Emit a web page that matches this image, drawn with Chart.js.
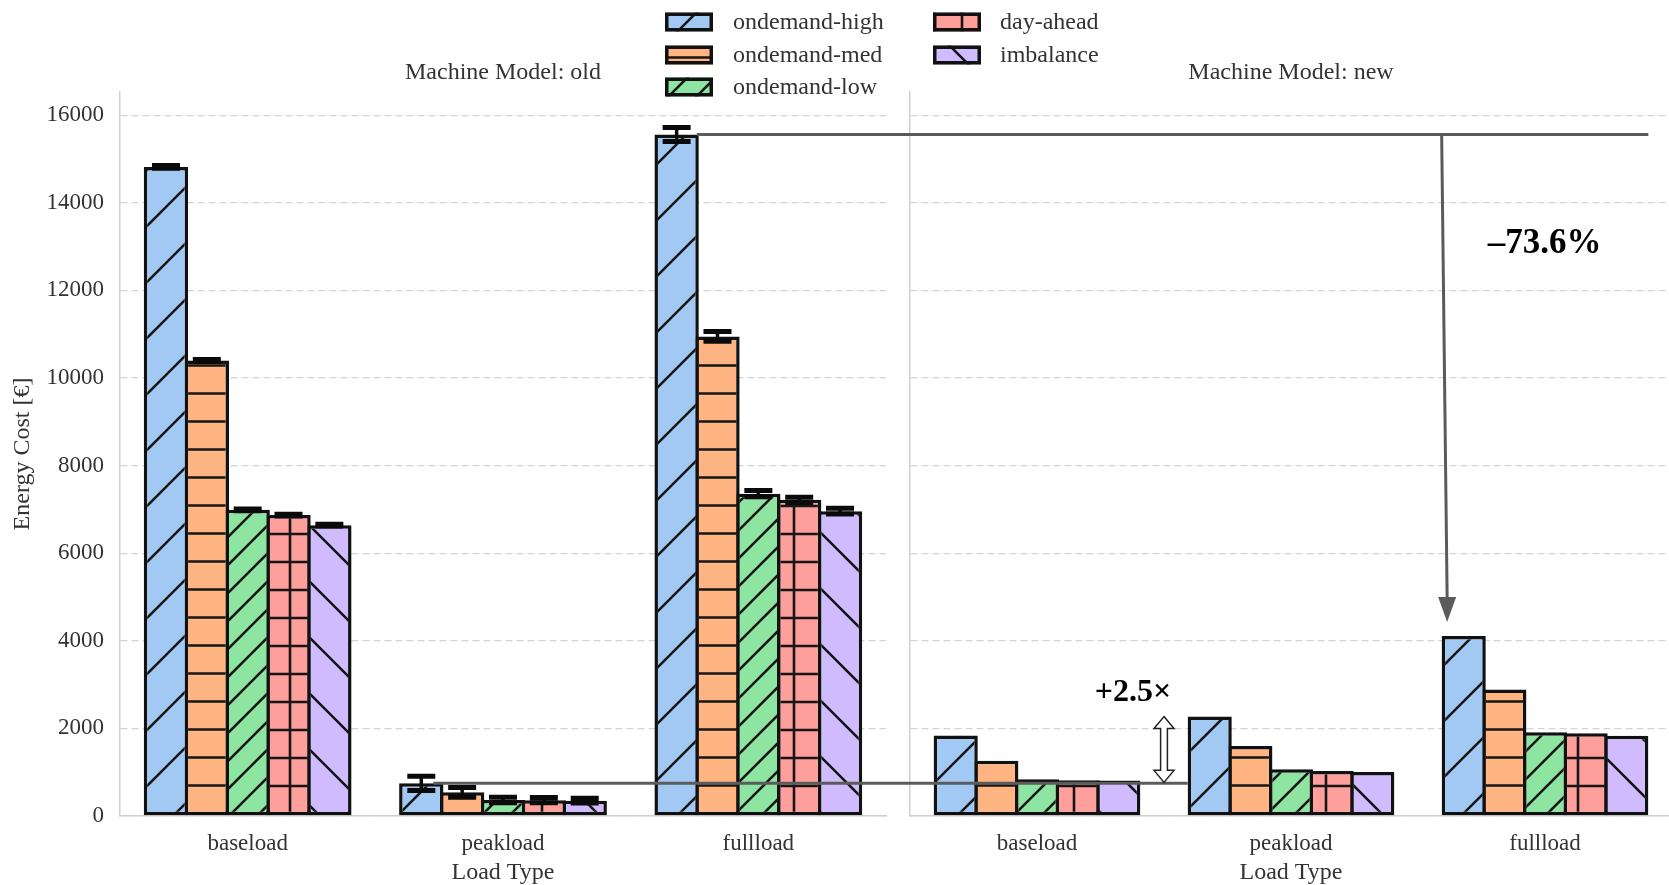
<!DOCTYPE html>
<html>
<head>
<meta charset="utf-8">
<title>Energy Cost by Load Type</title>
<script src="https://cdn.jsdelivr.net/npm/chart.js@4.4.0/dist/chart.umd.min.js"></script>
<style>
  html, body { margin: 0; padding: 0; background: #fff; overflow: hidden; width: 1669px; height: 885px; }
  canvas { position: absolute; left: 0; top: 0; }
</style>
</head>
<body>
<canvas id="oldChart" width="1669" height="885"></canvas>
<canvas id="newChart" width="1672" height="885"></canvas>
<script>
// ---- data ----
const loadTypes = ['baseload', 'peakload', 'fullload'];
const seriesNames = ['ondemand-high', 'ondemand-med', 'ondemand-low', 'day-ahead', 'imbalance'];
const seriesColors = ['#a1c9f4', '#ffb482', '#8de5a1', '#ff9f9b', '#d0bbff'];
const yTickValues = [0, 2000, 4000, 6000, 8000, 10000, 12000, 14000, 16000];

// Machine Model: old
const oldHigh      = [14820, 745, 15560];
const oldMed       = [10400, 540, 10950];
const oldLow       = [6990, 365, 7360];
const oldDayAhead  = [6870, 360, 7220];
const oldImbalance = [6640, 350, 6960];
// error bar half-lengths (old)
const oldHighErr      = [30, 165, 160];
const oldMedErr       = [25, 110, 110];
const oldLowErr       = [20, 65, 70];
const oldDayAheadErr  = [20, 60, 60];
const oldImbalanceErr = [20, 55, 65];

// Machine Model: new
const newHigh      = [1840, 2270, 4110];
const newMed       = [1260, 1600, 2890];
const newLow       = [840, 1065, 1910];
const newDayAhead  = [815, 1030, 1890];
const newImbalance = [810, 1005, 1835];

const changeLabel = '\u201373.6%';
const ratioLabel = '+2.5\u00d7';

// ---- styling ----
const SERIF = '"Liberation Serif", "Times New Roman", serif';
const TEXT = '#333333';
const Y_MAX = 16530;
const EDGE = 3.5;

// hatch tiles, anchored to the page origin
function hatchTile(color, size, draw) {
  const c = document.createElement('canvas');
  c.width = size; c.height = size;
  const g = c.getContext('2d');
  g.fillStyle = color;
  g.fillRect(0, 0, size, size);
  g.strokeStyle = '#161616';
  g.lineWidth = 2.6;
  g.beginPath();
  draw(g, size);
  g.stroke();
  return c;
}
const forward = (phase) => (g, s) => {          // "/"
  for (let k = -2; k <= 2; k++) { const d = phase + k * s; g.moveTo(d + s, -s); g.lineTo(-s, d + s); }
};
const backward = (phase) => (g, s) => {         // "\"
  for (let k = -2; k <= 2; k++) { const d = phase + k * s; g.moveTo(d - s, -s); g.lineTo(d + 2 * s, 2 * s); }
};
const horizontal = (phase) => (g, s) => {       // "-"
  for (let k = -1; k <= 1; k++) { const y = phase + k * s; g.moveTo(0, y); g.lineTo(s, y); }
};
const cross = (px, py) => (g, s) => {           // "+"
  for (let k = -1; k <= 1; k++) {
    const y = py + k * s; g.moveTo(0, y); g.lineTo(s, y);
    const x = px + k * s; g.moveTo(x, 0); g.lineTo(x, s);
  }
};
const tiles = [
  hatchTile(seriesColors[0], 56, forward(37)),
  hatchTile(seriesColors[1], 28, horizontal(1.5)),
  hatchTile(seriesColors[2], 28, forward(9)),
  hatchTile(seriesColors[3], 28, cross(10, 2)),
  hatchTile(seriesColors[4], 56, backward(8))
];
const patternsFor = (ctx) => tiles.map(t => ctx.createPattern(t, 'repeat'));

function buildDatasets(series, pats) {
  return seriesNames.map((name, i) => ({
    label: name,
    data: series[i],
    backgroundColor: pats[i],
    borderColor: '#111111',
    borderWidth: EDGE,
    borderSkipped: false,
    categoryPercentage: 0.8,
    barPercentage: 1.0857
  }));
}

function errorBars(errs) {
  return {
    id: 'errorBars',
    afterDatasetsDraw(chart) {
      const ctx = chart.ctx, y = chart.scales.y;
      ctx.save();
      ctx.strokeStyle = '#0a0a0a';
      chart.data.datasets.forEach((ds, i) => {
        chart.getDatasetMeta(i).data.forEach((bar, j) => {
          const e = errs[i][j];
          if (!e) return;
          const v = ds.data[j];
          const top = y.getPixelForValue(v + e), bot = y.getPixelForValue(v - e);
          ctx.lineWidth = 3.5;
          ctx.beginPath(); ctx.moveTo(bar.x, top); ctx.lineTo(bar.x, bot); ctx.stroke();
          ctx.lineWidth = 5;
          ctx.beginPath();
          ctx.moveTo(bar.x - 14, top); ctx.lineTo(bar.x + 14, top);
          ctx.moveTo(bar.x - 14, bot); ctx.lineTo(bar.x + 14, bot);
          ctx.stroke();
        });
      });
      ctx.restore();
    }
  };
}

function panelTitle(text) {
  return {
    id: 'panelTitle',
    afterDraw(chart) {
      const { ctx, chartArea } = chart;
      ctx.save();
      ctx.font = '24px ' + SERIF;
      ctx.fillStyle = TEXT;
      ctx.textAlign = 'center';
      ctx.textBaseline = 'middle';
      ctx.fillText(text, (chartArea.left + chartArea.right) / 2, chartArea.top - 19);
      ctx.restore();
    }
  };
}

function panelOptions(isLeft) {
  return {
    responsive: false,
    animation: false,
    devicePixelRatio: 1,
    events: [],
    layout: { padding: isLeft ? { left: 0, right: 783, top: 92, bottom: 0 }
                              : { left: 910, right: 0, top: 92, bottom: 0 } },
    plugins: { legend: { display: false }, tooltip: { enabled: false }, title: { display: false } },
    scales: {
      x: {
        type: 'category',
        offset: true,
        grid: { display: false, drawTicks: false },
        border: { display: true, color: '#cfcfcf', width: 1.5 },
        ticks: { color: TEXT, font: { family: SERIF, size: 23 }, padding: 14, maxRotation: 0, autoSkip: false },
        title: { display: true, text: 'Load Type', color: TEXT, font: { family: SERIF, size: 24, lineHeight: 1.05 }, padding: { top: 0, bottom: 0 } },
        afterFit: (s) => { s.height = 69; }
      },
      y: {
        min: 0,
        max: Y_MAX,
        afterBuildTicks: (s) => { s.ticks = yTickValues.map(v => ({ value: v })); },
        grid: { color: '#d4d4d4', lineWidth: 1.3, drawTicks: false },
        border: { display: true, color: '#cfcfcf', width: 1.5, dash: [7, 4] },
        ticks: { display: isLeft, padding: 16, color: TEXT, font: { family: SERIF, size: 23 }, callback: (v) => String(v) },
        title: { display: isLeft, text: 'Energy Cost [\u20ac]', color: TEXT, font: { family: SERIF, size: 24 }, padding: { top: 8, bottom: 0 } },
        afterFit: (s) => { s.width = isLeft ? 120 : 0; }
      }
    }
  };
}

// ---- left panel ----
const oldCtx = document.getElementById('oldChart').getContext('2d');
const oldChart = new Chart(oldCtx, {
  type: 'bar',
  data: {
    labels: loadTypes,
    datasets: buildDatasets([oldHigh, oldMed, oldLow, oldDayAhead, oldImbalance], patternsFor(oldCtx))
  },
  options: panelOptions(true),
  plugins: [
    errorBars([oldHighErr, oldMedErr, oldLowErr, oldDayAheadErr, oldImbalanceErr]),
    panelTitle('Machine Model: old')
  ]
});

// ---- legend + comparison annotations (drawn on the top layer) ----
const overlay = {
  id: 'overlay',
  afterDraw(chart) {
    const ctx = chart.ctx, y = chart.scales.y;
    const pats = patternsFor(ctx);

    // legend: two columns
    const colBox = [665, 933], colText = [733, 1000], rowY = [22, 55, 87];
    ctx.save();
    ctx.font = '24px ' + SERIF;
    ctx.textBaseline = 'middle';
    ctx.textAlign = 'left';
    seriesNames.forEach((name, i) => {
      const col = i < 3 ? 0 : 1, row = i < 3 ? i : i - 3;
      const bx = colBox[col], by = rowY[row] - 9.5;
      ctx.fillStyle = pats[i];
      ctx.fillRect(bx, by, 48, 19);
      ctx.strokeStyle = '#111111';
      ctx.lineWidth = 3.5;
      ctx.strokeRect(bx + 1.75, by + 1.75, 44.5, 15.5);
      ctx.fillStyle = TEXT;
      ctx.fillText(name, colText[col], rowY[row] + 1);
    });
    ctx.restore();

    const GREY = '#5b5b5b';
    const oldFull = oldChart.getDatasetMeta(0).data[2];
    const oldPeak = oldChart.getDatasetMeta(0).data[1];
    const newFull = chart.getDatasetMeta(0).data[2];
    const newFullLast = chart.getDatasetMeta(4).data[2];
    const newPeak = chart.getDatasetMeta(0).data[1];
    const newBaseLast = chart.getDatasetMeta(4).data[0];

    ctx.save();
    ctx.strokeStyle = GREY;
    ctx.fillStyle = GREY;
    ctx.lineWidth = 3;

    // old fullload -> new fullload drop
    const yTop = y.getPixelForValue(oldHigh[2]);
    ctx.beginPath();
    ctx.moveTo(oldFull.x + oldFull.width / 2 - 2, yTop);
    ctx.lineTo(newFullLast.x + newFullLast.width / 2, yTop);
    ctx.stroke();
    const xA = newFull.x - newFull.width / 2;
    const tipX = xA + 5.5, tipY = y.getPixelForValue(newHigh[2]) - 14;
    ctx.beginPath();
    ctx.moveTo(xA, yTop);
    ctx.lineTo(tipX, tipY - 22);
    ctx.stroke();
    ctx.beginPath();
    ctx.moveTo(tipX, tipY);
    ctx.lineTo(tipX - 9, tipY - 25);
    ctx.lineTo(tipX + 9, tipY - 25);
    ctx.closePath();
    ctx.fill();

    // old peakload level carried across
    const yLow = y.getPixelForValue(oldHigh[1]);
    ctx.beginPath();
    ctx.moveTo(oldPeak.x + 12, yLow);
    ctx.lineTo(newPeak.x - newPeak.width / 2, yLow);
    ctx.stroke();

    // hollow double arrow
    const xD = ((newBaseLast.x + newBaseLast.width / 2) + (newPeak.x - newPeak.width / 2)) / 2;
    const y1 = y.getPixelForValue(newHigh[1]), y2 = yLow - 1;
    const sw = 3.4, hw = 10, hl = 12;
    ctx.beginPath();
    ctx.moveTo(xD, y1);
    ctx.lineTo(xD + hw, y1 + hl); ctx.lineTo(xD + sw, y1 + hl);
    ctx.lineTo(xD + sw, y2 - hl); ctx.lineTo(xD + hw, y2 - hl);
    ctx.lineTo(xD, y2);
    ctx.lineTo(xD - hw, y2 - hl); ctx.lineTo(xD - sw, y2 - hl);
    ctx.lineTo(xD - sw, y1 + hl); ctx.lineTo(xD - hw, y1 + hl);
    ctx.closePath();
    ctx.fillStyle = '#ffffff';
    ctx.fill();
    ctx.strokeStyle = '#222222';
    ctx.lineWidth = 1.5;
    ctx.stroke();

    // labels
    ctx.fillStyle = '#000000';
    ctx.textAlign = 'center';
    ctx.textBaseline = 'middle';
    ctx.font = 'bold 35px ' + SERIF;
    ctx.fillText(changeLabel, xA + 103, yTop + 109);
    ctx.font = 'bold 32px ' + SERIF;
    ctx.fillText(ratioLabel, xD - 31, y1 - 24);
    ctx.restore();
  }
};

// ---- right panel ----
const newCtx = document.getElementById('newChart').getContext('2d');
const newChart = new Chart(newCtx, {
  type: 'bar',
  data: {
    labels: loadTypes,
    datasets: buildDatasets([newHigh, newMed, newLow, newDayAhead, newImbalance], patternsFor(newCtx))
  },
  options: panelOptions(false),
  plugins: [panelTitle('Machine Model: new'), overlay]
});
</script>
</body>
</html>
